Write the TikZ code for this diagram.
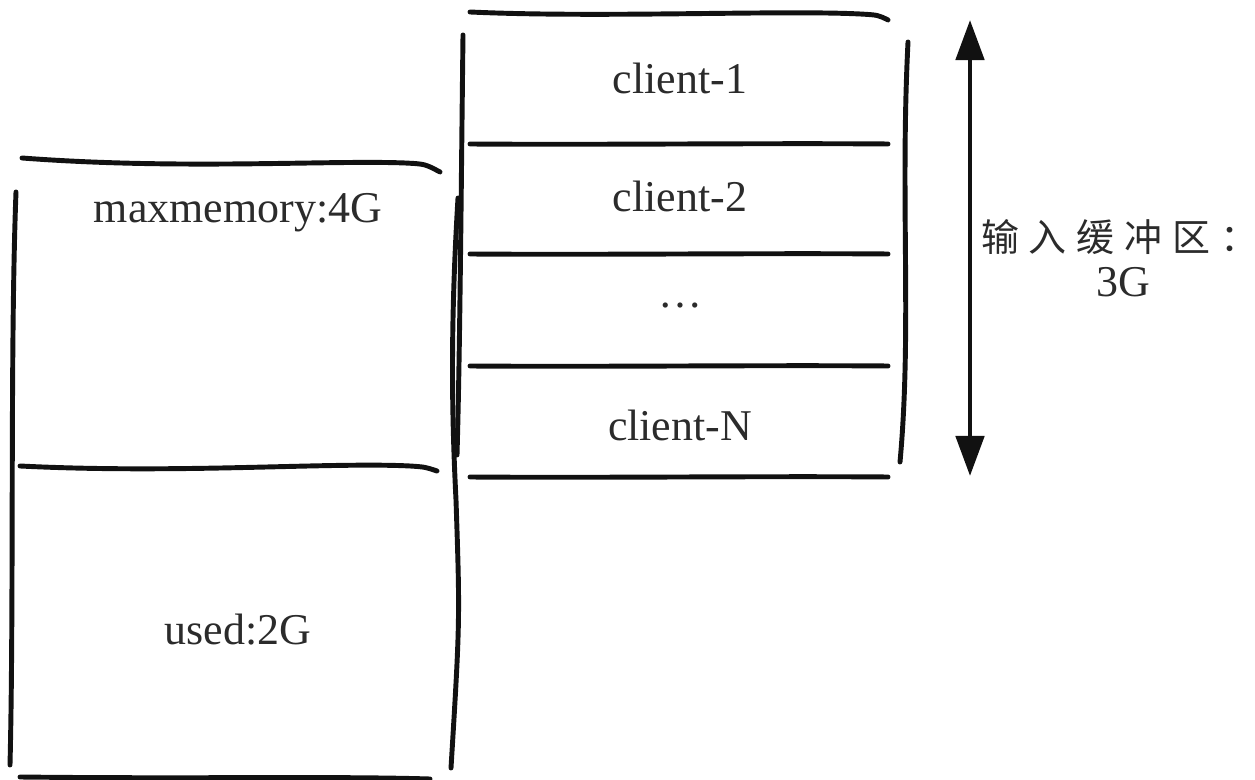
\documentclass[tikz,border=0pt]{standalone}
\usepackage{fontspec}
\setmainfont{Liberation Serif}
\newfontfamily\cjk{Noto Sans CJK SC}
\usetikzlibrary{arrows.meta}
\definecolor{InkBlack}{HTML}{111111}
\definecolor{TextGray}{HTML}{2B2B2B}
\newcommand{\cjkgap}{\hspace{2.8pt}}

\begin{document}
\begin{tikzpicture}[x=0.01cm,y=-0.01cm,
  sketch/.style={line width=1.4pt,line cap=round,InkBlack},
  lbl/.style={font=\fontsize{12.5}{15}\selectfont,text=TextGray}]
  \useasboundingbox (0,0) rectangle (1255,780);
  % left box: maxmemory
  \draw[sketch] (22,158) .. controls (180,170) and (330,160) .. (405,163) .. controls (425,164) .. (440,172);
  \draw[sketch] (20,466) .. controls (180,474) and (330,462) .. (410,466) .. controls (425,467) .. (437,471);
  \draw[sketch] (20,777) .. controls (200,779) and (330,776) .. (430,779);
  \draw[sketch] (16,192) .. controls (10,350) and (14,600) .. (10,765);
  \draw[sketch] (458,198) .. controls (450,330) and (452,420) .. (456,500) .. controls (460,620) .. (451,768);
  % middle box: clients
  \draw[sketch] (470,12) .. controls (600,18) and (780,10) .. (860,14) .. controls (878,15) .. (888,20);
  \foreach \yy in {144,254,366,477}
    \draw[sketch] (470,\yy) .. controls (600,\yy+1) and (760,\yy-1) .. (888,\yy);
  \draw[sketch] (463,35) .. controls (461,200) and (460,350) .. (457,455);
  \draw[sketch] (908,42) .. controls (900,200) and (912,330) .. (900,462);
  % labels
  \node[lbl] (maxmem) at (238,213) {maxmemory:4G};
  \node[lbl] (used) at (238,630) {used:2G};
  \node[lbl] (cli1) at (680,78) {client-1};
  \node[lbl] (cli2) at (680,196) {client-2};
  \node[lbl] (clidots) at (680,306) {\dots};
  \node[lbl] (cliN) at (680,425) {client-N};
  % input buffer span
  \coordinate (buftop) at (970,20);
  \coordinate (bufbot) at (970,476);
  \draw[sketch,{Triangle[width=0.28cm,length=0.40cm]}-{Triangle[width=0.28cm,length=0.40cm]}] (buftop) -- (bufbot);
  \node[font=\cjk\fontsize{10.8}{14}\selectfont,text=TextGray,inner sep=0pt] (inbuf) at (1114,237)
    {输\cjkgap 入\cjkgap 缓\cjkgap 冲\cjkgap 区\cjkgap\makebox[0.7em][l]{：}};
  \node[lbl] (inbufsize) at (1123,282) {3G};
\end{tikzpicture}
\end{document}
